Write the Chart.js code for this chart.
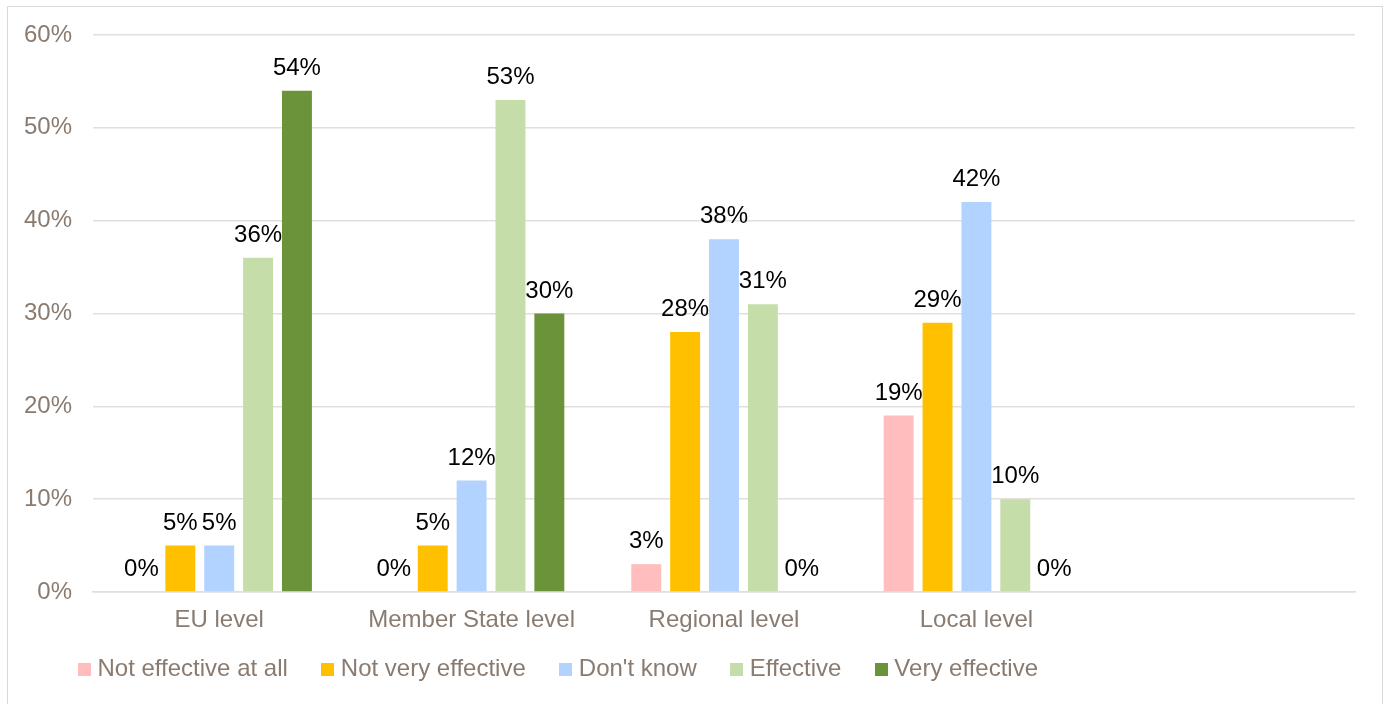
<!DOCTYPE html>
<html>
<head>
<meta charset="utf-8">
<title>Effectiveness by level</title>
<script src="https://cdn.jsdelivr.net/npm/chart.js@4.4.1/dist/chart.umd.min.js"></script>
<style>
  html, body { margin: 0; padding: 0; background: #ffffff; overflow: hidden; }
  #frame { position: absolute; left: 7px; top: 6px; width: 1374px; height: 740px; border: 1px solid #d9d9d9; }
  #wrap { position: absolute; left: 0; top: 0; width: 1374px; height: 720px; }
</style>
</head>
<body>
<div id="frame"><div id="wrap"><canvas id="chart"></canvas></div></div>
<script>
// Levels of governance (the fifth slot is left empty, as in the original layout)
const categories = ['EU level', 'Member State level', 'Regional level', 'Local level', ''];

// Share of respondents per answer, in percent
const notEffectiveAtAll = [0, 0, 3, 19, null];
const notVeryEffective  = [5, 5, 28, 29, null];
const dontKnow          = [5, 12, 38, 42, null];
const effective         = [36, 53, 31, 10, null];
const veryEffective     = [54, 30, 0, 0, null];

const seriesNames  = ['Not effective at all', 'Not very effective', "Don't know", 'Effective', 'Very effective'];
const seriesColors = ['#FFBDBE', '#FFC000', '#B2D3FF', '#C5DEA9', '#6B933A'];
const seriesValues = [notEffectiveAtAll, notVeryEffective, dontKnow, effective, veryEffective];

const yTicks = [0, 10, 20, 30, 40, 50, 60];

const FONT = '"Liberation Sans", Arial, sans-serif';
const FONT_SIZE = 24;
const AXIS_TEXT = '#8A7B70';
const GRID = '#E3DEDA';

// Small square swatch used as the legend marker
function swatch(color) {
  const c = document.createElement('canvas');
  c.width = 13; c.height = 13;
  const g = c.getContext('2d');
  g.fillStyle = color;
  g.fillRect(0, 0, 13, 13);
  return c;
}

// Percentage labels above every bar
const valueLabels = {
  id: 'valueLabels',
  afterDatasetsDraw(chart) {
    const ctx = chart.ctx;
    ctx.save();
    ctx.font = FONT_SIZE + 'px ' + FONT;
    ctx.fillStyle = '#000000';
    ctx.textAlign = 'center';
    ctx.textBaseline = 'alphabetic';
    chart.data.datasets.forEach((ds, di) => {
      const meta = chart.getDatasetMeta(di);
      meta.data.forEach((bar, i) => {
        const v = ds.data[i];
        if (v === null || v === undefined) return;
        ctx.fillText(v + '%', bar.x, bar.y - 16);
      });
    });
    ctx.restore();
  }
};

// Legend row sits left of centre, just under the category labels
const LEGEND_PAD = 39;
const legendPlace = {
  id: 'legendPlace',
  afterLayout(chart) {
    const lg = chart.legend;
    if (!lg) return;
    lg.left = 75.5 - LEGEND_PAD;
    const h = lg.height;
    lg.top = 611;
    lg.bottom = lg.top + h;
  }
};

new Chart(document.getElementById('chart'), {
  type: 'bar',
  data: {
    labels: categories,
    datasets: seriesValues.map((vals, i) => ({
      label: seriesNames[i],
      data: vals,
      backgroundColor: seriesColors[i],
      borderWidth: 0,
      pointStyle: swatch(seriesColors[i]),
      categoryPercentage: 0.77,
      barPercentage: 0.77
    }))
  },
  options: {
    responsive: true,
    maintainAspectRatio: false,
    animation: false,
    layout: { padding: { left: 0, right: 27, top: 28, bottom: 12 } },
    plugins: {
      tooltip: { enabled: false },
      legend: {
        position: 'bottom',
        align: 'start',
        labels: {
          usePointStyle: true,
          pointStyleWidth: 2,
          boxHeight: 13,
          padding: LEGEND_PAD,
          color: AXIS_TEXT,
          font: { family: FONT, size: FONT_SIZE }
        }
      }
    },
    scales: {
      x: {
        grid: { display: false, drawTicks: false },
        border: { display: true, color: GRID, width: 1.5 },
        ticks: {
          color: AXIS_TEXT,
          padding: 13.6,
          maxRotation: 0,
          autoSkip: false,
          font: { family: FONT, size: FONT_SIZE }
        },
        afterFit(scale) { scale.height = 50; scale.paddingTop = 0; scale.paddingBottom = 0; }
      },
      y: {
        min: yTicks[0],
        max: yTicks[yTicks.length - 1],
        grid: { color: GRID, lineWidth: 1.5, drawTicks: false },
        border: { display: false },
        afterBuildTicks(scale) { scale.ticks = yTicks.map(v => ({ value: v })); },
        ticks: {
          color: AXIS_TEXT,
          padding: 21,
          font: { family: FONT, size: FONT_SIZE },
          callback: v => v + '%'
        },
        afterFit(scale) {
          scale.width = 85;
          scale.paddingTop = 0;
          scale.paddingBottom = 0;
        }
      }
    }
  },
  plugins: [valueLabels, legendPlace]
});
</script>
</body>
</html>
